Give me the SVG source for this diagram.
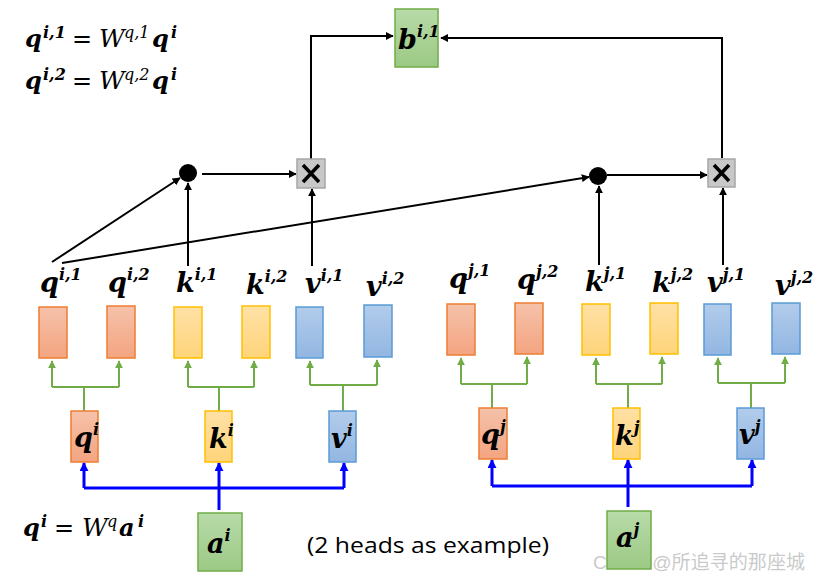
<svg xmlns="http://www.w3.org/2000/svg" width="820" height="579" viewBox="0 0 820 579">
<defs>
  <linearGradient id="gq" x1="0" y1="0" x2="0" y2="1"><stop offset="0" stop-color="#f5c2aa"/><stop offset="1" stop-color="#f4a480"/></linearGradient>
  <linearGradient id="gk" x1="0" y1="0" x2="0" y2="1"><stop offset="0" stop-color="#ffe1a6"/><stop offset="1" stop-color="#ffd47a"/></linearGradient>
  <linearGradient id="gv" x1="0" y1="0" x2="0" y2="1"><stop offset="0" stop-color="#b2cceb"/><stop offset="1" stop-color="#92b6e2"/></linearGradient>
  <linearGradient id="gg" x1="0" y1="0" x2="0" y2="1"><stop offset="0" stop-color="#b8dba9"/><stop offset="1" stop-color="#9cc985"/></linearGradient>
  <marker id="ab" viewBox="0 0 10 10" refX="9" refY="5" markerWidth="8" markerHeight="8" markerUnits="userSpaceOnUse" orient="auto"><path d="M0,0 L10,5 L0,10 z" fill="#000"/></marker>
  <marker id="ag" viewBox="0 0 10 10" refX="9" refY="5" markerWidth="8" markerHeight="8" markerUnits="userSpaceOnUse" orient="auto"><path d="M0,0 L10,5 L0,10 z" fill="#70ad47"/></marker>
  <marker id="au" viewBox="0 0 10 10" refX="9" refY="5" markerWidth="9" markerHeight="9" markerUnits="userSpaceOnUse" orient="auto"><path d="M0,0 L10,5 L0,10 z" fill="#0000ff"/></marker>
</defs>
<style>
  .m { font-family: "DejaVu Serif", "Liberation Serif", serif; font-weight: bold; font-style: italic; fill: #000; }
  .w { font-family: "DejaVu Serif", "Liberation Serif", serif; font-style: italic; font-weight: normal; }
  .lbl { font-size: 27px; }
  .sup { font-size: 16px; }
  .q { fill: url(#gq); stroke: #ed7d31; stroke-width: 1.5; }
  .k { fill: url(#gk); stroke: #ffc000; stroke-width: 1.5; }
  .v { fill: url(#gv); stroke: #5b9bd5; stroke-width: 1.5; }
  .g { fill: url(#gg); stroke: #70ad47; stroke-width: 1.5; }
  .x { fill: #c8c8c8; stroke: #a6a6a6; stroke-width: 1.5; }
  .bl { fill: none; stroke: #000; stroke-width: 2; }
  .gr { fill: none; stroke: #70ad47; stroke-width: 2; }
  .bu { fill: none; stroke: #0000ff; stroke-width: 3; }
</style>
<rect width="820" height="579" fill="#fff"/>

<!-- formulas -->
<g id="formula1">
  <text y="47"><tspan class="m" x="25" font-size="24">q</tspan><tspan class="m" x="43" y="38" font-size="16">i,1</tspan><tspan class="w" x="72" y="47" font-size="24">=</tspan><tspan class="w" x="99" y="47" font-size="25">W</tspan><tspan class="w" x="124" y="38" font-size="16">q,1</tspan><tspan class="m" x="152" y="47" font-size="24">q</tspan><tspan class="m" x="171" y="38" font-size="16">i</tspan></text>
</g>
<g id="formula2">
  <text y="89"><tspan class="m" x="25" font-size="24">q</tspan><tspan class="m" x="43" y="80" font-size="16">i,2</tspan><tspan class="w" x="72" y="89" font-size="24">=</tspan><tspan class="w" x="99" y="89" font-size="25">W</tspan><tspan class="w" x="124" y="80" font-size="16">q,2</tspan><tspan class="m" x="152" y="89" font-size="24">q</tspan><tspan class="m" x="171" y="80" font-size="16">i</tspan></text>
</g>
<g id="formula3">
  <text y="536"><tspan class="m" x="23" font-size="24">q</tspan><tspan class="m" x="41" y="527" font-size="16">i</tspan><tspan class="w" x="54" y="536" font-size="24">=</tspan><tspan class="w" x="82" y="536" font-size="25">W</tspan><tspan class="w" x="107" y="527" font-size="16">q</tspan><tspan class="m" x="119" y="536" font-size="24">a</tspan><tspan class="m" x="138" y="527" font-size="16">i</tspan></text>
</g>
<g id="note">
  <text x="307" y="553" font-family="Open Sans, Liberation Sans, sans-serif" font-size="21" textLength="242" lengthAdjust="spacingAndGlyphs" fill="#000">(2 heads as example)</text>
</g>
<g id="watermark">
  <text x="593" y="569" font-family="Liberation Sans, Noto Sans CJK SC, sans-serif" font-size="19" fill="#c0c0c0" fill-opacity="0.85" textLength="212" lengthAdjust="spacingAndGlyphs">CSDN @所追寻的那座城</text>
</g>

<!-- connectors -->
<g id="connectors">
  <path class="bl" d="M311,159 V36 H393" marker-end="url(#ab)"/>
  <path class="bl" d="M722,158 V38 H441" marker-end="url(#ab)"/>
  <path class="bl" d="M202,174 H296" marker-end="url(#ab)"/>
  <path class="bl" d="M607,175 H707" marker-end="url(#ab)"/>
  <path class="bl" d="M52,262 L180,178" marker-end="url(#ab)"/>
  <path class="bl" d="M62,263 L589,177" marker-end="url(#ab)"/>
  <path class="bl" d="M188,266 V183" marker-end="url(#ab)"/>
  <path class="bl" d="M312,266 V189" marker-end="url(#ab)"/>
  <path class="bl" d="M599,265 V186" marker-end="url(#ab)"/>
  <path class="bl" d="M723,265 V188" marker-end="url(#ab)"/>

  <!-- green splits left -->
  <path class="gr" d="M84,411 V387 M52,387 H119 M188,387 H254 M219,411 V387 M310,385 H377 M343,411 V385"/>
  <path class="gr" d="M52,387 V361" marker-end="url(#ag)"/>
  <path class="gr" d="M119,387 V361" marker-end="url(#ag)"/>
  <path class="gr" d="M188,387 V361" marker-end="url(#ag)"/>
  <path class="gr" d="M254,387 V361" marker-end="url(#ag)"/>
  <path class="gr" d="M310,385 V361" marker-end="url(#ag)"/>
  <path class="gr" d="M377,385 V360" marker-end="url(#ag)"/>
  <!-- green splits right -->
  <path class="gr" d="M492,408 V384 M461,384 H527 M596,384 H662 M628,408 V384 M718,383 H785 M751,408 V383"/>
  <path class="gr" d="M461,384 V358" marker-end="url(#ag)"/>
  <path class="gr" d="M527,384 V357" marker-end="url(#ag)"/>
  <path class="gr" d="M596,384 V358" marker-end="url(#ag)"/>
  <path class="gr" d="M662,384 V357" marker-end="url(#ag)"/>
  <path class="gr" d="M718,383 V358" marker-end="url(#ag)"/>
  <path class="gr" d="M785,383 V357" marker-end="url(#ag)"/>

  <!-- blue left -->
  <path class="bu" d="M219,510 V488 M84,488 H344"/>
  <path class="bu" d="M84,488 V463" marker-end="url(#au)"/>
  <path class="bu" d="M219,488 V463" marker-end="url(#au)"/>
  <path class="bu" d="M344,488 V463" marker-end="url(#au)"/>
  <!-- blue right -->
  <path class="bu" d="M628,507 V486 M492,486 H752"/>
  <path class="bu" d="M492,486 V460" marker-end="url(#au)"/>
  <path class="bu" d="M628,486 V460" marker-end="url(#au)"/>
  <path class="bu" d="M752,486 V460" marker-end="url(#au)"/>
</g>

<!-- output -->
<g id="b_i1">
  <rect class="g" x="395" y="9" width="43" height="58"/>
  <text class="m" x="398" y="49" font-size="27">b<tspan font-size="16" dy="-12">i,1</tspan></text>
</g>

<!-- multiply nodes -->
<g id="mul1">
  <rect class="x" x="297" y="159" width="28" height="29"/>
  <path d="M303,165 L319,182 M319,165 L303,182" stroke="#000" stroke-width="3.5"/>
</g>
<g id="mul2">
  <rect class="x" x="708" y="159" width="27" height="28"/>
  <path d="M714,165 L729,181 M729,165 L714,181" stroke="#000" stroke-width="3.5"/>
</g>
<g id="dot1"><circle cx="188" cy="173" r="9" fill="#000"/></g>
<g id="dot2"><circle cx="598" cy="176" r="9" fill="#000"/></g>

<!-- head labels -->
<g id="labels">
  <text class="m lbl" x="40" y="292">q<tspan class="sup" dy="-12">i,1</tspan></text>
  <text class="m lbl" x="108" y="292">q<tspan class="sup" dy="-12">i,2</tspan></text>
  <text class="m lbl" x="176" y="292">k<tspan class="sup" dy="-12">i,1</tspan></text>
  <text class="m lbl" x="246" y="294">k<tspan class="sup" dy="-12">i,2</tspan></text>
  <text class="m lbl" x="305" y="293">v<tspan class="sup" dy="-12">i,1</tspan></text>
  <text class="m lbl" x="366" y="296">v<tspan class="sup" dy="-12">i,2</tspan></text>
  <text class="m lbl" x="449" y="288">q<tspan class="sup" dy="-12">j,1</tspan></text>
  <text class="m lbl" x="517" y="289">q<tspan class="sup" dy="-12">j,2</tspan></text>
  <text class="m lbl" x="585" y="291">k<tspan class="sup" dy="-12">j,1</tspan></text>
  <text class="m lbl" x="652" y="292">k<tspan class="sup" dy="-12">j,2</tspan></text>
  <text class="m lbl" x="707" y="292">v<tspan class="sup" dy="-12">j,1</tspan></text>
  <text class="m lbl" x="775" y="295">v<tspan class="sup" dy="-12">j,2</tspan></text>
</g>

<!-- head rects -->
<g id="qi1"><rect class="q" x="39" y="307" width="28" height="51"/></g>
<g id="qi2"><rect class="q" x="107" y="306" width="28" height="52"/></g>
<g id="ki1"><rect class="k" x="174" y="307" width="28" height="51"/></g>
<g id="ki2"><rect class="k" x="242" y="306" width="28" height="52"/></g>
<g id="vi1"><rect class="v" x="296" y="307" width="27" height="51"/></g>
<g id="vi2"><rect class="v" x="364" y="305" width="28" height="52"/></g>
<g id="qj1"><rect class="q" x="447" y="304" width="28" height="51"/></g>
<g id="qj2"><rect class="q" x="515" y="303" width="28" height="51"/></g>
<g id="kj1"><rect class="k" x="582" y="304" width="28" height="51"/></g>
<g id="kj2"><rect class="k" x="650" y="303" width="28" height="51"/></g>
<g id="vj1"><rect class="v" x="704" y="304" width="27" height="51"/></g>
<g id="vj2"><rect class="v" x="772" y="303" width="28" height="51"/></g>

<!-- q k v -->
<g id="qi"><rect class="q" x="71" y="411" width="27" height="51"/><text class="m" x="74" y="447" font-size="27">q<tspan font-size="16" dy="-12">i</tspan></text></g>
<g id="ki"><rect class="k" x="205" y="411" width="27" height="51"/><text class="m" x="209" y="448" font-size="27">k<tspan font-size="16" dy="-12">i</tspan></text></g>
<g id="vi"><rect class="v" x="329" y="411" width="27" height="51"/><text class="m" x="331" y="448" font-size="27">v<tspan font-size="16" dy="-12">i</tspan></text></g>
<g id="qj"><rect class="q" x="479" y="408" width="28" height="51"/><text class="m" x="481" y="444" font-size="27">q<tspan font-size="16" dy="-12">j</tspan></text></g>
<g id="kj"><rect class="k" x="613" y="408" width="27" height="51"/><text class="m" x="615" y="445" font-size="27">k<tspan font-size="16" dy="-12">j</tspan></text></g>
<g id="vj"><rect class="v" x="737" y="408" width="27" height="51"/><text class="m" x="739" y="444" font-size="27">v<tspan font-size="16" dy="-12">j</tspan></text></g>

<!-- inputs -->
<g id="ai"><rect class="g" x="198" y="513" width="44" height="58"/><text class="m" x="207" y="553" font-size="27">a<tspan font-size="16" dy="-12">i</tspan></text></g>
<g id="aj"><rect class="g" x="607" y="511" width="44" height="58"/><text class="m" x="616" y="547" font-size="27">a<tspan font-size="16" dy="-12">j</tspan></text></g>
</svg>
